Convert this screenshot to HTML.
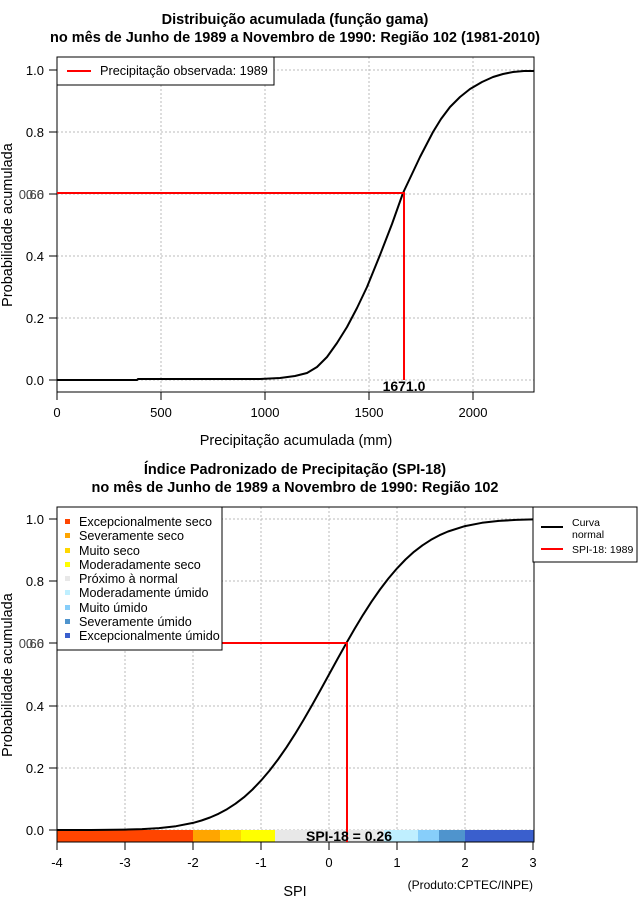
<!DOCTYPE html>
<html><head><meta charset="utf-8"><style>
body{margin:0;background:#fff}
svg{display:block;font-family:"Liberation Sans",sans-serif}
</style></head><body>
<svg width="640" height="900" viewBox="0 0 640 900" xmlns="http://www.w3.org/2000/svg">
<rect width="640" height="900" fill="#fff"/>
<!-- TOP -->
<g font-weight="bold" font-size="14.5" text-anchor="middle">
<text x="295" y="24">Distribuição acumulada (função gama)</text>
<text x="295" y="42">no mês de Junho de 1989 a Novembro de 1990: Região 102 (1981-2010)</text>
</g>
<g stroke="#bbb" stroke-dasharray="2,2" stroke-width="1">
<line x1="57" y1="57" x2="57" y2="392"/><line x1="161" y1="57" x2="161" y2="392"/><line x1="265" y1="57" x2="265" y2="392"/><line x1="369" y1="57" x2="369" y2="392"/><line x1="473" y1="57" x2="473" y2="392"/>
<line x1="57" y1="70" x2="534" y2="70"/><line x1="57" y1="132" x2="534" y2="132"/><line x1="57" y1="194" x2="534" y2="194"/><line x1="57" y1="256" x2="534" y2="256"/><line x1="57" y1="318" x2="534" y2="318"/><line x1="57" y1="380" x2="534" y2="380"/>
</g>
<rect x="57" y="57" width="477" height="335" fill="none" stroke="#000"/>
<g stroke="#000"><line x1="49" y1="70" x2="57" y2="70"/><line x1="49" y1="132" x2="57" y2="132"/><line x1="49" y1="194" x2="57" y2="194"/><line x1="49" y1="256" x2="57" y2="256"/><line x1="49" y1="318" x2="57" y2="318"/><line x1="49" y1="380" x2="57" y2="380"/>
<line x1="57" y1="392" x2="57" y2="400"/><line x1="161" y1="392" x2="161" y2="400"/><line x1="265" y1="392" x2="265" y2="400"/><line x1="369" y1="392" x2="369" y2="400"/><line x1="473" y1="392" x2="473" y2="400"/></g>
<g font-size="13" text-anchor="end"><text x="44" y="75">1.0</text><text x="44" y="137">0.8</text><text x="44" y="199" fill="#444">0.60</text><text x="44" y="199" fill="#444">0.6</text><text x="44" y="261">0.4</text><text x="44" y="323">0.2</text><text x="44" y="385">0.0</text></g>
<g font-size="13" text-anchor="middle"><text x="57" y="417">0</text><text x="161" y="417">500</text><text x="265" y="417">1000</text><text x="369" y="417">1500</text><text x="473" y="417">2000</text></g>
<text x="296" y="445" font-size="14.5" text-anchor="middle">Precipitação acumulada (mm)</text>
<text font-size="14.5" transform="translate(12,225) rotate(-90)" text-anchor="middle">Probabilidade acumulada</text>
<polyline fill="none" stroke="#000" stroke-width="2" stroke-linejoin="round" points="57,380 137,380 138,379 260,379 280,378 295,376 307,373 317,367 327,357 337,343 347,327 357,308 367,287 380,255 392,224 403,193 412,174 420,157 433,132 441,119 450,107 460,97 470,89 482,82 493,77 503,74 513,72 524,71 534,71"/>
<polyline fill="none" stroke="#f00" stroke-width="2" points="57,193 404,193 404,380"/>
<text x="404" y="391" font-size="14" font-weight="bold" text-anchor="middle">1671.0</text>
<rect x="57" y="57" width="217" height="28" fill="#fff" stroke="#000"/>
<line x1="67" y1="71" x2="91" y2="71" stroke="#f00" stroke-width="2"/>
<text x="100" y="75" font-size="12.7">Precipitação observada: 1989</text>
<!-- BOTTOM -->
<g font-weight="bold" font-size="14.5" text-anchor="middle">
<text x="295" y="474">Índice Padronizado de Precipitação (SPI-18)</text>
<text x="295" y="492">no mês de Junho de 1989 a Novembro de 1990: Região 102</text>
</g>
<g stroke="#bbb" stroke-dasharray="2,2">
<line x1="57" y1="507" x2="57" y2="842"/><line x1="125" y1="507" x2="125" y2="842"/><line x1="193" y1="507" x2="193" y2="842"/><line x1="261" y1="507" x2="261" y2="842"/><line x1="329" y1="507" x2="329" y2="842"/><line x1="397" y1="507" x2="397" y2="842"/><line x1="465" y1="507" x2="465" y2="842"/>
<line x1="57" y1="519" x2="534" y2="519"/><line x1="57" y1="581" x2="534" y2="581"/><line x1="57" y1="643" x2="534" y2="643"/><line x1="57" y1="706" x2="534" y2="706"/><line x1="57" y1="768" x2="534" y2="768"/><line x1="57" y1="830" x2="534" y2="830"/>
</g>
<g>
<rect x="57" y="830" width="136" height="12" fill="#FF4500"/>
<rect x="193" y="830" width="27" height="12" fill="#FFA500"/>
<rect x="220" y="830" width="21" height="12" fill="#FFD700"/>
<rect x="241" y="830" width="34" height="12" fill="#FFFF00"/>
<rect x="275" y="830" width="109" height="12" fill="#E8E8E8"/>
<rect x="384" y="830" width="34" height="12" fill="#BFEFFF"/>
<rect x="418" y="830" width="21" height="12" fill="#87CEFA"/>
<rect x="439" y="830" width="26" height="12" fill="#4F94CD"/>
<rect x="465" y="830" width="69" height="12" fill="#3A5FCD"/>
</g>
<rect x="57" y="507" width="477" height="335" fill="none" stroke="#000"/>
<g stroke="#000"><line x1="49" y1="519" x2="57" y2="519"/><line x1="49" y1="581" x2="57" y2="581"/><line x1="49" y1="643" x2="57" y2="643"/><line x1="49" y1="706" x2="57" y2="706"/><line x1="49" y1="768" x2="57" y2="768"/><line x1="49" y1="830" x2="57" y2="830"/>
<line x1="57" y1="842" x2="57" y2="850"/><line x1="125" y1="842" x2="125" y2="850"/><line x1="193" y1="842" x2="193" y2="850"/><line x1="261" y1="842" x2="261" y2="850"/><line x1="329" y1="842" x2="329" y2="850"/><line x1="397" y1="842" x2="397" y2="850"/><line x1="465" y1="842" x2="465" y2="850"/><line x1="533" y1="842" x2="533" y2="850"/></g>
<g font-size="13" text-anchor="end"><text x="44" y="524">1.0</text><text x="44" y="586">0.8</text><text x="44" y="648" fill="#444">0.60</text><text x="44" y="648" fill="#444">0.6</text><text x="44" y="711">0.4</text><text x="44" y="773">0.2</text><text x="44" y="835">0.0</text></g>
<g font-size="13" text-anchor="middle"><text x="57" y="867">-4</text><text x="125" y="867">-3</text><text x="193" y="867">-2</text><text x="261" y="867">-1</text><text x="329" y="867">0</text><text x="397" y="867">1</text><text x="465" y="867">2</text><text x="533" y="867">3</text></g>
<text x="295" y="896" font-size="14.5" text-anchor="middle">SPI</text>
<text x="533" y="889" font-size="12" text-anchor="end">(Produto:CPTEC/INPE)</text>
<text font-size="14.5" transform="translate(12,675) rotate(-90)" text-anchor="middle">Probabilidade acumulada</text>
<polyline fill="none" stroke="#000" stroke-width="2" stroke-linejoin="round" points="57,830 91,830 125,829.6 142,829.1 159,828.1 176,826.2 193,822.9 201.5,820.5 210,817.5 218.5,813.8 227,809.2 235.5,803.7 244,797.2 252.5,789.5 261,780.6 269.5,770.6 278,759.5 286.5,747.3 295,734.1 303.5,720 312,705.2 320.5,690 329,674.5 337.5,659 346,643.8 354.5,629 363,614.9 371.5,601.7 380,589.5 388.5,578.4 397,568.4 405.5,559.5 414,551.8 422.5,545.3 431,539.8 439.5,535.2 448,531.5 465,526.1 482,522.8 499,520.9 516,519.9 533,519.4"/>
<polyline fill="none" stroke="#f00" stroke-width="2" points="57,643 347,643 347,842"/>
<text x="349" y="841" font-size="14" font-weight="bold" text-anchor="middle">SPI-18 = 0.26</text>
<rect x="57" y="507" width="165" height="143" fill="#fff" stroke="#000"/>
<g font-size="12.6">
<rect x="65" y="519" width="5" height="5" fill="#FF4500"/><text x="79" y="526">Excepcionalmente seco</text>
<rect x="65" y="533" width="5" height="5" fill="#FFA500"/><text x="79" y="540">Severamente seco</text>
<rect x="65" y="548" width="5" height="5" fill="#FFD700"/><text x="79" y="555">Muito seco</text>
<rect x="65" y="562" width="5" height="5" fill="#FFFF00"/><text x="79" y="569">Moderadamente seco</text>
<rect x="65" y="576" width="5" height="5" fill="#E8E8E8"/><text x="79" y="583">Próximo à normal</text>
<rect x="65" y="590" width="5" height="5" fill="#BFEFFF"/><text x="79" y="597">Moderadamente úmido</text>
<rect x="65" y="605" width="5" height="5" fill="#87CEFA"/><text x="79" y="612">Muito úmido</text>
<rect x="65" y="619" width="5" height="5" fill="#4F94CD"/><text x="79" y="626">Severamente úmido</text>
<rect x="65" y="633" width="5" height="5" fill="#3A5FCD"/><text x="79" y="640">Excepcionalmente úmido</text>
</g>
<rect x="533" y="507" width="104" height="55" fill="#fff" stroke="#000"/>
<line x1="541" y1="527" x2="563" y2="527" stroke="#000" stroke-width="2"/>
<line x1="541" y1="549" x2="563" y2="549" stroke="#f00" stroke-width="2"/>
<g font-size="10.5"><text x="572" y="526">Curva</text><text x="572" y="538">normal</text><text x="572" y="553">SPI-18: 1989</text></g>
</svg>
</body></html>
